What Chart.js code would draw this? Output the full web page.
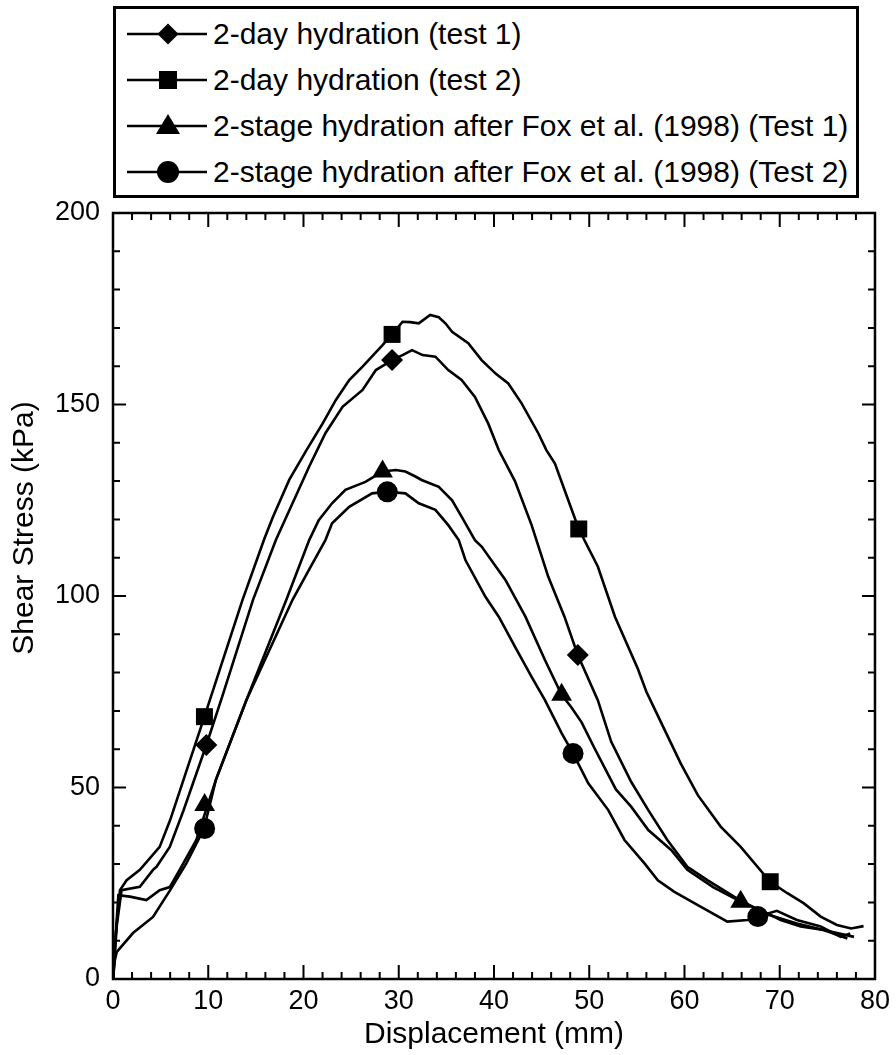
<!DOCTYPE html>
<html>
<head>
<meta charset="utf-8">
<script src="https://cdn.jsdelivr.net/npm/chart.js@4/dist/chart.umd.min.js"></script>
<style>
  html, body { margin: 0; padding: 0; background: #fff; }
  #wrap { position: absolute; left: 0; top: 0; width: 896px; height: 1055px; }
  #legend { position: absolute; left: 113px; top: 6px; width: 746px; height: 192px; box-sizing: border-box;
            border: 3px solid #000; background: #fff; font-family: "Liberation Sans", Arial, sans-serif; }
  .row { position: absolute; left: 0; height: 40px; }
  .row svg { position: absolute; left: 11px; top: 0; }
  .row span { position: absolute; left: 97px; top: 0; line-height: 40px; font-size: 30px; color: #000; white-space: nowrap; }
</style>
</head>
<body>
<div id="wrap"><canvas id="c" width="896" height="1055"></canvas></div>
<div id="legend">
  <div class="row" style="top:5px"><svg width="80" height="40"><line x1="0" y1="20" x2="80" y2="20" stroke="#000" stroke-width="2.6"/><polygon points="41,9.5 51.5,20 41,30.5 30.5,20" fill="#000"/></svg><span>2-day hydration (test 1)</span></div>
  <div class="row" style="top:51px"><svg width="80" height="40"><line x1="0" y1="20" x2="80" y2="20" stroke="#000" stroke-width="2.6"/><rect x="32" y="11" width="18" height="18" fill="#000"/></svg><span>2-day hydration (test 2)</span></div>
  <div class="row" style="top:97px"><svg width="80" height="40"><line x1="0" y1="20" x2="80" y2="20" stroke="#000" stroke-width="2.6"/><polygon points="41,8 53,28 29,28" fill="#000"/></svg><span>2-stage hydration after Fox et al. (1998) (Test 1)</span></div>
  <div class="row" style="top:143px"><svg width="80" height="40"><line x1="0" y1="20" x2="80" y2="20" stroke="#000" stroke-width="2.6"/><circle cx="41" cy="20" r="11" fill="#000"/></svg><span>2-stage hydration after Fox et al. (1998) (Test 2)</span></div>
</div>
<script>
// ---- data ----
const xTicks = [0, 10, 20, 30, 40, 50, 60, 70, 80];
const yTicks = [0, 50, 100, 150, 200];
const xTitle = 'Displacement (mm)';
const yTitle = 'Shear Stress (kPa)';

// 2-day hydration (test 2)  – square
const sqX = [0,0.3,0.73,1.43,2.82,4.9,6.0,7.4,9.6,11.5,13.6,15.9,16.8,18.5,20.3,22,23.4,24.8,26.2,28.3,29.3,30.4,31.2,32.1,33.3,34.2,34.9,35.6,37.3,38.7,40.2,41.5,42.9,44.65,45.5,46.4,47.8,48.9,50.9,52.7,55.1,56,57.5,59.6,61.4,63.8,65.9,69,70.8,72.5,74.3,76,77.5,78.8];
const sqY = [0,12,23.2,25.8,28.5,34.5,41.5,52,68.5,83,99,115,120.7,130.3,138,145,151.2,156.4,159.9,165.5,168.3,171.6,171.5,171.2,173.4,172.8,171.2,169,166,161.6,158,155.5,150.3,142.5,138.1,134.6,125,117.5,107.7,94.6,81,75,67.2,56.3,48,39.8,34.5,25.4,22.4,19.8,16.3,14.1,13.2,13.8];
const sqMX = [9.6, 29.3, 48.9, 69];
const sqMY = [68.5, 168.3, 117.5, 25.4];

// 2-day hydration (test 1)  – diamond
const diX = [0,0.4,0.9,2.82,4.2,4.57,5.96,7.4,9.8,11.5,14.7,17.1,18.85,20.6,22.3,24.1,26.2,27.6,29.3,30.5,31.4,32.5,33.85,35.2,36.6,38,39.4,40.5,42.2,43.95,45.7,47.4,48.8,50.9,52.3,54.4,56.2,58.2,60.3,62.4,65.2,68.4,71.8,74.6,77.8];
const diY = [0,14,23.2,24.1,28.5,29.3,34.5,44,61.1,74,99,114.6,124.2,133.8,142.5,149.4,153.8,159,161.6,163,164.2,162.9,162.5,159,156.4,152,145,138.1,130,118.5,105,94.6,84.6,72.8,62,51.5,44.1,36.3,29.3,25.8,21.5,17.1,14.5,12.8,11];
const diMX = [9.8, 29.3, 48.8];
const diMY = [61.1, 161.6, 84.6];

// 2-stage hydration (Test 1)  – triangle
const trX = [0,0.3,0.56,1.78,3.5,4.9,5.96,7,8.75,9.62,10.8,14,18.2,20.6,21.6,23,24.4,26.5,28.3,29.7,30.7,31.75,32.4,34.2,35.6,36.6,38,38.7,41.2,43.3,45.35,47.1,48.1,49.2,50.5,52.8,54.4,56.2,58.6,60.3,63,65.9,68,70.1,72.2,74.6,77.1];
const trY = [0,12,21.9,21.5,20.6,23.2,24,28.5,36.3,43,52,72.8,99,114.6,119.8,124.2,127.7,129.8,132.5,132.9,132.5,131.2,130.3,128.5,125,120.7,114.6,112.9,104.2,94.6,83.3,74.2,71,67,60.5,49.5,45,38.9,33.7,28.5,24,20.2,18,15.4,13.7,12.8,10.6];
const trMX = [9.62, 28.3, 47.1, 65.9];
const trMY = [45.4, 132.5, 74.2, 20.2];

// 2-stage hydration (Test 2)  – circle
const ciX = [0,0.2,0.4,2.1,4.2,6,7.7,9.1,9.62,10.8,14,18.85,20.5,22.3,23,24.8,27.2,28.8,30.7,32.1,33.85,35.2,36.3,37,39.1,40.5,42.2,43.95,45.35,47.1,48.3,49.9,52,53.7,55.8,57.2,58.9,61.4,64.5,66.6,67.7,69.7,71.8,74.3,76.4,77.4];
const ciY = [0,5,7.1,12,16.2,23.2,30.2,37,40,52,72.8,99,106.5,114.6,119,123.3,126.8,127.2,126.8,124.2,122.5,118.5,114.6,109.4,99.8,94.6,86.8,78.9,72.8,64.2,58.9,51.1,44.1,36.3,30.2,25.8,22.8,19.3,15,15.4,16.3,17.8,15.4,13.7,11,11.9];
const ciMX = [9.62, 28.8, 48.3, 67.7];
const ciMY = [39.3, 127.2, 58.9, 16.3];

const pts = (xs, ys) => xs.map((x, i) => ({ x: x, y: ys[i] }));

function lineSet(xs, ys) {
  return { type: 'line', data: pts(xs, ys), borderColor: '#000', borderWidth: 2.6, pointRadius: 0, tension: 0, fill: false };
}
function markSet(xs, ys, style, r) {
  return { type: 'line', data: pts(xs, ys), showLine: false, pointStyle: style, pointRadius: r,
           pointBackgroundColor: '#000', pointBorderColor: '#000', pointBorderWidth: 0, pointHoverRadius: r };
}

const FONT = '"Liberation Sans", Arial, sans-serif';

const framePlugin = {
  id: 'frame',
  afterDatasetsDraw(chart) {
    const { ctx, chartArea: a, scales: { x, y } } = chart;
    ctx.save();
    ctx.strokeStyle = '#000';
    ctx.lineWidth = 2;
    ctx.beginPath();
    for (let v = 0; v <= 80; v += 2) {
      const px = x.getPixelForValue(v);
      const len = (v % 10 === 0) ? 14 : 7;
      ctx.moveTo(px, a.bottom); ctx.lineTo(px, a.bottom - len);
      ctx.moveTo(px, a.top); ctx.lineTo(px, a.top + len);
    }
    for (let v = 0; v <= 200; v += 10) {
      const py = y.getPixelForValue(v);
      const len = (v % 50 === 0) ? 13 : 7;
      ctx.moveTo(a.left, py); ctx.lineTo(a.left + len, py);
      ctx.moveTo(a.right, py); ctx.lineTo(a.right - len, py);
    }
    ctx.stroke();
    ctx.lineWidth = 2.5;
    ctx.strokeRect(a.left, a.top, a.right - a.left, a.bottom - a.top);
    // y-axis title (placed as in the reference, above the axis centre)
    ctx.fillStyle = '#000';
    ctx.font = '30px ' + FONT;
    ctx.textAlign = 'center';
    ctx.textBaseline = 'middle';
    ctx.translate(25, 528);
    ctx.rotate(-Math.PI / 2);
    ctx.fillText(yTitle, 0, 0);
    ctx.restore();
  }
};

new Chart(document.getElementById('c'), {
  data: {
    datasets: [
      lineSet(sqX, sqY), lineSet(diX, diY), lineSet(trX, trY), lineSet(ciX, ciY),
      markSet(sqMX, sqMY, 'rect', 12), markSet(diMX, diMY, 'rectRot', 11),
      markSet(trMX, trMY, 'triangle', 12), markSet(ciMX, ciMY, 'circle', 10.5)
    ]
  },
  options: {
    responsive: false,
    animation: false,
    events: [],
    layout: { padding: { top: 213, right: 18, left: 0, bottom: 0 } },
    plugins: { legend: { display: false }, tooltip: { enabled: false } },
    scales: {
      x: {
        type: 'linear', min: 0, max: 80,
        afterBuildTicks(s) { s.ticks = xTicks.map(v => ({ value: v })); },
        ticks: { color: '#000', font: { family: FONT, size: 27 }, padding: 6, maxRotation: 0, autoSkip: false },
        grid: { display: false, drawTicks: false },
        border: { display: false },
        title: { display: true, text: xTitle, color: '#000', font: { family: FONT, size: 30 }, padding: { top: 0, bottom: 2 } },
        afterFit(s) { s.height = 76; }
      },
      y: {
        type: 'linear', min: 0, max: 200,
        afterBuildTicks(s) { s.ticks = yTicks.map(v => ({ value: v })); },
        ticks: { color: '#000', font: { family: FONT, size: 27 }, padding: 13, autoSkip: false },
        grid: { display: false, drawTicks: false },
        border: { display: false },
        title: { display: false },
        afterFit(s) { s.width = 113; }
      }
    }
  },
  plugins: [framePlugin]
});
</script>
</body>
</html>
